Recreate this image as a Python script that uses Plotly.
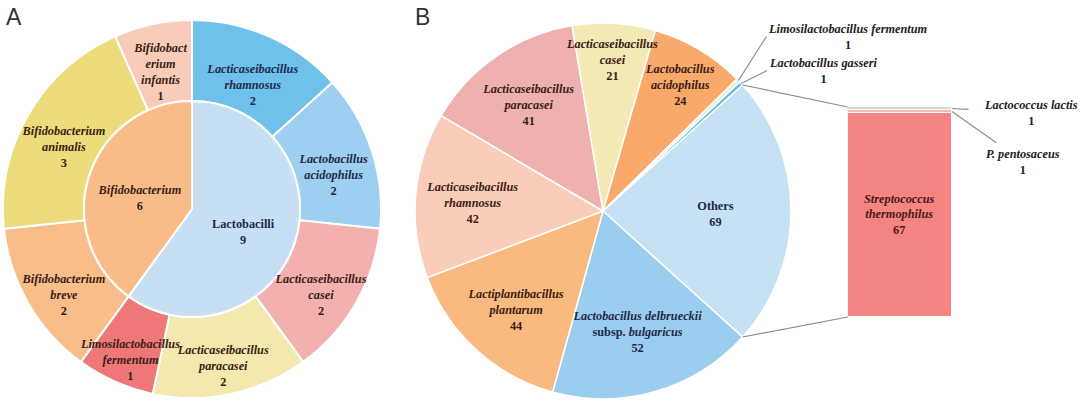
import math
import plotly.graph_objects as go

# ---------------- data ----------------
# Panel A (inner ring = genus group, outer ring = species)
a_inner_labels = ["Lactobacilli", "Bifidobacterium"]
a_inner_values = [9, 6]
a_outer_labels = ["Lacticaseibacillus rhamnosus", "Lactobacillus acidophilus",
                  "Lacticaseibacillus casei", "Lacticaseibacillus paracasei",
                  "Limosilactobacillus fermentum", "Bifidobacterium breve",
                  "Bifidobacterium animalis", "Bifidobacterium infantis"]
a_outer_values = [2, 2, 2, 2, 1, 2, 3, 1]

# Panel B pie
b_labels = ["Others", "Lactobacillus delbrueckii subsp. bulgaricus",
            "Lactiplantibacillus plantarum", "Lacticaseibacillus rhamnosus",
            "Lacticaseibacillus paracasei", "Lacticaseibacillus casei",
            "Lactobacillus acidophilus", "Limosilactobacillus fermentum",
            "Lactobacillus gasseri"]
b_values = [69, 52, 44, 42, 41, 21, 24, 1, 1]

# Panel B bar ("Others" breakdown), bottom to top
bar_labels = ["Streptococcus thermophilus", "P. pentosaceus", "Lactococcus lactis"]
bar_values = [67, 1, 1]

# ---------------- display text ----------------
a_inner_disp = ["Lactobacilli", "<i>Bifidobacterium</i>"]
a_outer_disp = ["<i>Lacticaseibacillus<br>rhamnosus</i>", "<i>Lactobacillus<br>acidophilus</i>",
                "<i>Lacticaseibacillus<br>casei</i>", "<i>Lacticaseibacillus<br>paracasei</i>",
                "<i>Limosilactobacillus<br>fermentum</i>", "<i>Bifidobacterium<br>breve</i>",
                "<i>Bifidobacterium<br>animalis</i>", "<i>Bifidobact<br>erium<br>infantis</i>"]
b_disp = ["Others", "<i>Lactobacillus delbrueckii</i><br>subsp. <i>bulgaricus</i>",
          "<i>Lactiplantibacillus<br>plantarum</i>", "<i>Lacticaseibacillus<br>rhamnosus</i>",
          "<i>Lacticaseibacillus<br>paracasei</i>", "<i>Lacticaseibacillus<br>casei</i>",
          "<i>Lactobacillus<br>acidophilus</i>", "", ""]
bar_disp = ["<i>Streptococcus<br>thermophilus</i>", "", ""]

# ---------------- styles ----------------
W, H = 1080, 405
NAVY = "#1d2a48"
BROWN = "#3a1e15"
FONT = "Liberation Serif"
FS = 12.3

a_inner_colors = ["#c6dff3", "#f9bc88"]
a_outer_colors = ["#6fc1ec", "#9dcff0", "#f2b0af", "#f3e8ae", "#ee7878",
                  "#f9bd8a", "#ecdc7c", "#f8ccb9"]
a_inner_tc = [NAVY, BROWN]
a_outer_tc = [NAVY, NAVY, BROWN, BROWN, BROWN, BROWN, BROWN, BROWN]

b_colors = ["#c6e0f4", "#9bcdee", "#f9b97f", "#f9cdb9", "#eeb1af", "#f2e9b4",
            "#f9a96a", "#eeecd6", "#62c0de"]
b_tc = [NAVY, NAVY, BROWN, BROWN, BROWN, BROWN, BROWN, BROWN, BROWN]
bar_colors = ["#f48583", "#f3b9b7", "#d3dacd"]


def with_values(disp, vals):
    return [f"{d}<br>{v}" if d else "" for d, v in zip(disp, vals)]


def shifted(dom, px):
    """shift a paper-domain down by px pixels (used for label overlays)"""
    return [dom[0] - px / H, dom[1] - px / H]


# domains (paper)
A_OUT_X, A_OUT_Y = [0.0028, 0.3528], [0.0173, 0.9506]
A_IN_X, A_IN_Y = [0.0778, 0.2778], [0.2173, 0.7506]
B_X, B_Y = [0.3843, 0.7324], [0.0148, 0.9432]
BAR_X, BAR_Y = [0.785, 0.8815], [0.2173, 0.7358]
A_HOLE = 0.572
# label overlay for the outer ring: slightly smaller circle, centred 12px lower
A_LAB_X, A_LAB_Y, A_LAB_HOLE = [0.1704, 0.3481], [0.0, 0.9086], 0.614
A_LAB_X = [(192 - 184) / W, (192 + 184) / W]
CLEAR = "rgba(0,0,0,0)"

total_b = sum(b_values)
b_rotation = 90 - 180.0 * b_values[0] / total_b   # centre "Others" at 3 o'clock

fig = go.Figure()

# coloured slices (no text)
fig.add_trace(go.Pie(
    labels=a_outer_labels, values=a_outer_values, sort=False, direction="clockwise",
    rotation=0, hole=A_HOLE, domain=dict(x=A_OUT_X, y=A_OUT_Y),
    marker=dict(colors=a_outer_colors, line=dict(color="white", width=2)),
    textinfo="none", hoverinfo="label+value", showlegend=False))
fig.add_trace(go.Pie(
    labels=a_inner_labels, values=a_inner_values, sort=False, direction="clockwise",
    rotation=0, domain=dict(x=A_IN_X, y=A_IN_Y),
    marker=dict(colors=a_inner_colors, line=dict(color="white", width=2)),
    textinfo="none", hoverinfo="label+value", showlegend=False))
fig.add_trace(go.Pie(
    labels=b_labels, values=b_values, sort=False, direction="clockwise",
    rotation=b_rotation, domain=dict(x=B_X, y=B_Y),
    marker=dict(colors=b_colors, line=dict(color="white", width=1.5)),
    textinfo="none", hoverinfo="label+value", showlegend=False))

# transparent overlays carrying the labels so text is never hidden by neighbouring slices
overlays = [
    (a_outer_labels, a_outer_values, a_outer_disp, a_outer_tc, A_LAB_HOLE, A_LAB_X, A_LAB_Y, 0),
    (a_inner_labels, a_inner_values, a_inner_disp, a_inner_tc, 0, A_IN_X, shifted(A_IN_Y, 6), 0),
    (b_labels, b_values, b_disp, b_tc, 0, B_X, shifted(B_Y, 3), b_rotation),
]
for labs, vals, disp, tcol, hole, dx, dy, rot in overlays:
    fig.add_trace(go.Pie(
        labels=labs, values=vals, sort=False, direction="clockwise",
        rotation=rot, hole=hole, domain=dict(x=dx, y=dy),
        marker=dict(colors=[CLEAR] * len(vals), line=dict(width=0)),
        text=with_values(disp, vals), textinfo="text",
        textposition="inside", insidetextorientation="horizontal",
        textfont=dict(family=FONT, size=FS, color=tcol, weight="bold"),
        hoverinfo="skip", showlegend=False))

for lab, val, col, d in zip(bar_labels, bar_values, bar_colors, bar_disp):
    fig.add_trace(go.Bar(
        x=[0], y=[val], name=lab, width=1, marker=dict(color=col, line=dict(color="white", width=1)),
        text=[f"{d}<br>{val}" if d else ""], textposition="inside", insidetextanchor="middle",
        textfont=dict(family=FONT, size=FS, color="#4a1a16", weight="bold"),
        hoverinfo="name+y", showlegend=False))


def pie_point(dx, dy, angle_deg, rfrac=1.0):
    cx = (dx[0] + dx[1]) / 2 * W
    cy = (dy[0] + dy[1]) / 2 * H
    r = min((dx[1] - dx[0]) * W, (dy[1] - dy[0]) * H) / 2 * rfrac
    a = math.radians(angle_deg)
    return (cx + r * math.sin(a)) / W, (cy + r * math.cos(a)) / H


# angles of slice boundaries in panel B (clockwise from 12 o'clock)
cum = [b_rotation]
for v in b_values:
    cum.append(cum[-1] + 360.0 * v / total_b)

# connector lines from "Others" slice edges to bar corners
bar_total = sum(bar_values)
p_top = pie_point(B_X, B_Y, cum[0])
p_bot = pie_point(B_X, B_Y, cum[1])
bar_left = BAR_X[0]
bar_top = BAR_Y[1]
bar_bot = BAR_Y[0]
for (px, py), by in [(p_top, bar_top), (p_bot, bar_bot)]:
    fig.add_shape(type="line", xref="paper", yref="paper", x0=px, y0=py, x1=bar_left, y1=by,
                  line=dict(color="#8c8c8c", width=1.2))

annos = []
# small slice labels of pie B
small = [(7, 28, -44), (8, 26, -13)]
for idx, axp, ayp in small:
    mid = (cum[idx] + cum[idx + 1]) / 2
    hx, hy = pie_point(B_X, B_Y, mid)
    annos.append(dict(x=hx, y=hy, xref="paper", yref="paper", ax=axp, ay=ayp,
                      text=f"<b><i>{b_labels[idx]}</i><br>{b_values[idx]}</b>",
                      showarrow=True, arrowhead=0, arrowwidth=1.1, arrowcolor="#8c8c8c",
                      xanchor="left", yanchor="middle", align="center",
                      font=dict(family=FONT, size=FS, color="#222222")))

# small bar segment labels
cum_bar = [0]
for v in bar_values:
    cum_bar.append(cum_bar[-1] + v)
bar_small = [(1, 71, 50, "<b><i>P. pentosaceus</i></b>"), (2, 79, 4, "<b><i>Lactococcus lactis</i></b>")]
for idx, axp, ayp, t in bar_small:
    ymid = (cum_bar[idx] + cum_bar[idx + 1]) / 2
    annos.append(dict(x=0.5, y=ymid, xref="x", yref="y", ax=axp, ay=ayp,
                      text=f"{t}<br><b>{bar_values[idx]}</b>",
                      showarrow=True, arrowhead=0, arrowwidth=1.1, arrowcolor="#8c8c8c",
                      startstandoff=4 if idx == 1 else 14, align="center",
                      font=dict(family=FONT, size=FS, color="#222222")))

# panel letters
for letter, xp in [("A", 0.004), ("B", 0.382)]:
    annos.append(dict(x=xp, y=0.995, xref="paper", yref="paper", text=letter, showarrow=False,
                      xanchor="left", yanchor="top",
                      font=dict(family="Liberation Sans", size=23, color="#333333")))

fig.update_layout(
    width=W, height=H, margin=dict(l=0, r=0, t=0, b=0),
    paper_bgcolor="white", plot_bgcolor="white", barmode="stack", bargap=0,
    xaxis=dict(domain=BAR_X, range=[-0.5, 0.5], visible=False, fixedrange=True),
    yaxis=dict(domain=BAR_Y, range=[0, bar_total], visible=False, fixedrange=True),
    uniformtext=dict(minsize=FS, mode="show"),
    annotations=annos, showlegend=False)

fig.write_html("out.html", config={"displayModeBar": False},
               post_script="document.body.style.margin='0';")
